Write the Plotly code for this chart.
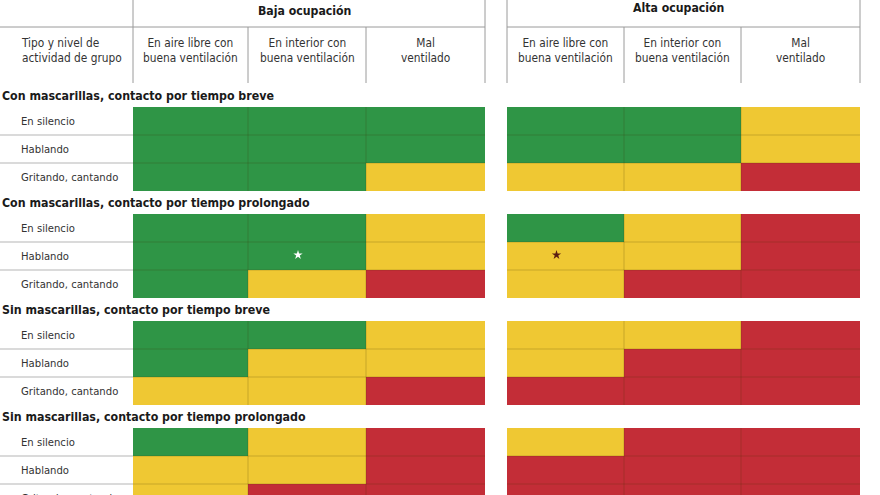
import plotly.graph_objects as go

# ---------------- data ----------------
occupancy = ["Baja ocupación", "Alta ocupación"]
ventilation = ["En aire libre con<br>buena ventilación",
               "En interior con<br>buena ventilación",
               "Mal<br>ventilado"]
row_header = "Tipo y nivel de<br>actividad de grupo"
sections = ["Con mascarillas, contacto por tiempo breve",
            "Con mascarillas, contacto por tiempo prolongado",
            "Sin mascarillas, contacto por tiempo breve",
            "Sin mascarillas, contacto por tiempo prolongado"]
activities = ["En silencio", "Hablando", "Gritando, cantando"]

# risk level: 0 = bajo (verde), 1 = medio (amarillo), 2 = alto (rojo)
# each row: Baja (3 cols) + Alta (3 cols)
risk_con_breve = [[0, 0, 0, 0, 0, 1],
                  [0, 0, 0, 0, 0, 1],
                  [0, 0, 1, 1, 1, 2]]
risk_con_prolongado = [[0, 0, 1, 0, 1, 2],
                       [0, 0, 1, 1, 1, 2],
                       [0, 1, 2, 1, 2, 2]]
risk_sin_breve = [[0, 0, 1, 1, 1, 2],
                  [0, 1, 1, 1, 2, 2],
                  [1, 1, 2, 2, 2, 2]]
risk_sin_prolongado = [[0, 1, 2, 1, 2, 2],
                       [1, 1, 2, 2, 2, 2],
                       [1, 2, 2, 2, 2, 2]]
risk_tables = [risk_con_breve, risk_con_prolongado, risk_sin_breve, risk_sin_prolongado]

# asterisk notes: (section index, row index, column index)
star_notes = [(1, 1, 1), (1, 1, 3)]
star_colors = ["#ffffff", "#5a1e12"]

# ---------------- layout constants ----------------
W, H = 880, 495
col_edges_baja = [133, 248, 366, 485]
col_edges_alta = [507, 624, 741, 860]
first_top, section_step, row_h = 107, 107, 28
label_x = 19

GREEN, YELLOW, RED = "#2f9546", "#efc833", "#c32d37"
colorscale = [[0, GREEN], [1/3, GREEN], [1/3, YELLOW], [2/3, YELLOW], [2/3, RED], [1, RED]]

x_edges = col_edges_baja + col_edges_alta  # gap cell between 485 and 507
y_edges = []
z = []
for s, table in enumerate(risk_tables):
    top = first_top + s * section_step
    for r, row in enumerate(table):
        y_edges.append(top + r * row_h)
        z.append(row[:3] + [None] + row[3:])
    y_edges.append(top + 3 * row_h)
    if s < len(risk_tables) - 1:
        z.append([None] * 7)

fig = go.Figure()
fig.add_trace(go.Heatmap(
    x=x_edges, y=y_edges, z=z, zmin=0, zmax=2,
    colorscale=colorscale, showscale=False, hoverinfo="skip"))

shapes = []
line_dark = "rgba(70,45,0,0.22)"
grey = "#9a9a9a"

# header frame
shapes.append(dict(type="line", x0=0, x1=col_edges_baja[-1], y0=27, y1=27, line=dict(color=grey, width=1)))
shapes.append(dict(type="line", x0=col_edges_alta[0], x1=col_edges_alta[-1], y0=27, y1=27, line=dict(color=grey, width=1)))
for xe in [col_edges_baja[0], col_edges_baja[-1], col_edges_alta[0], col_edges_alta[-1]]:
    shapes.append(dict(type="line", x0=xe, x1=xe, y0=0, y1=83, line=dict(color=grey, width=1)))
for xe in col_edges_baja[1:-1] + col_edges_alta[1:-1]:
    shapes.append(dict(type="line", x0=xe, x1=xe, y0=27, y1=83, line=dict(color=grey, width=1)))

# cell grid lines and label separators
for s in range(len(risk_tables)):
    top = first_top + s * section_step
    for r in (1, 2):
        yy = top + r * row_h
        shapes.append(dict(type="line", x0=0, x1=col_edges_baja[0], y0=yy, y1=yy,
                           line=dict(color="#b5b5b5", width=1)))
        for edges in (col_edges_baja, col_edges_alta):
            shapes.append(dict(type="line", x0=edges[0], x1=edges[-1], y0=yy, y1=yy,
                               line=dict(color=line_dark, width=1)))
    for edges in (col_edges_baja, col_edges_alta):
        for xe in edges[1:-1]:
            shapes.append(dict(type="line", x0=xe, x1=xe, y0=top, y1=top + 3 * row_h,
                               line=dict(color=line_dark, width=1)))

annotations = []
FONT = "DejaVu Sans Condensed, Liberation Sans Narrow, sans-serif"
TXT = "#333333"
# top headers
for i, (name, edges) in enumerate(zip(occupancy, (col_edges_baja, col_edges_alta))):
    annotations.append(dict(x=(edges[0] + edges[-1]) / 2 - 5, y=11 if i == 0 else 8, text=name, showarrow=False,
                            font=dict(family=FONT, size=12.2, color="#1a1a1a", weight="bold"),
                            xanchor="center", yanchor="middle"))
    for c in range(3):
        annotations.append(dict(x=(edges[c] + edges[c + 1]) / 2, y=50, text=ventilation[c], showarrow=False,
                                font=dict(family=FONT, size=11.8, color=TXT),
                                xanchor="center", yanchor="middle", align="center"))
annotations.append(dict(x=label_x, y=50, text=row_header, showarrow=False,
                        font=dict(family=FONT, size=11.8, color=TXT),
                        xanchor="left", yanchor="middle", align="left"))

for s, title in enumerate(sections):
    top = first_top + s * section_step
    annotations.append(dict(x=0, y=top - 11, text=title, showarrow=False,
                            font=dict(family=FONT, size=12.3, color="#1a1a1a", weight="bold"),
                            xanchor="left", yanchor="middle"))
    for r, act in enumerate(activities):
        annotations.append(dict(x=label_x, y=top + r * row_h + row_h / 2 - 8.5, text=act, showarrow=False,
                                font=dict(family=FONT, size=11.2, color=TXT),
                                xanchor="left", yanchor="top"))

# asterisks
all_edges = col_edges_baja + col_edges_alta
col_lefts = all_edges[0:3] + all_edges[4:7]
col_rights = all_edges[1:4] + all_edges[5:8]
sx, sy = [], []
for (s, r, c) in star_notes:
    sx.append((col_lefts[c] + col_rights[c]) / 2 - 9)
    sy.append(first_top + s * section_step + r * row_h + row_h / 2 - 1)
fig.add_trace(go.Scatter(x=sx, y=sy, mode="markers", hoverinfo="skip",
                         marker=dict(symbol="star", size=7, color=star_colors, line=dict(width=0))))

fig.update_layout(
    width=W, height=H, margin=dict(l=0, r=0, t=0, b=0),
    paper_bgcolor="white", plot_bgcolor="white", showlegend=False,
    xaxis=dict(range=[0, W], visible=False, fixedrange=True),
    yaxis=dict(range=[H, 0], visible=False, fixedrange=True),
    shapes=shapes, annotations=annotations,
)
fig.write_html("out.html", config={"displayModeBar": False},
               post_script="document.body.style.margin='0';document.body.style.overflow='hidden';")
